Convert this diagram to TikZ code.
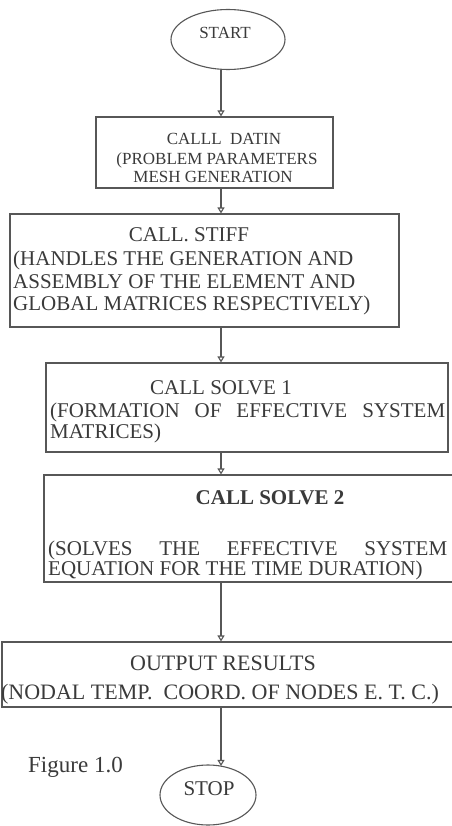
\documentclass[tikz,border=0pt]{standalone}
\usepackage{fontspec}
\setmainfont{Liberation Serif}
\usetikzlibrary{arrows.meta,shapes.geometric}
\definecolor{ink}{HTML}{3A3A3A}
\definecolor{edge}{HTML}{575757}
\begin{document}
\begin{tikzpicture}[x=1pt,y=-1pt,
  box/.style={draw=edge, line width=1.1pt, rectangle, inner sep=0pt},
  oval/.style={draw=edge, line width=1.1pt, ellipse, inner sep=0pt},
  arr/.style={draw=edge, line width=1.1pt, -{Triangle[open,length=6pt,width=7pt]}},
  txt/.style={text=ink, inner sep=0pt, anchor=base, font=\fontsize{21}{21}\selectfont},
  ltxt/.style={txt, anchor=base west},
  smalltxt/.style={txt, font=\fontsize{17}{17}\selectfont},
]
\useasboundingbox (0,0) rectangle (451,826);
\fill[white] (0,0) rectangle (451,826);

% shapes
\node[oval, minimum width=114pt, minimum height=60pt] (start) at (228,39.5) {};
\node[box, minimum width=237pt, minimum height=71pt] (b1) at (214.5,152.5) {};
\node[box, minimum width=389pt, minimum height=113pt] (b2) at (204.5,270.5) {};
\node[box, minimum width=402pt, minimum height=89pt] (b3) at (247,407.5) {};
\node[box, minimum width=410pt, minimum height=107pt] (b4) at (249,528.5) {};
\node[box, minimum width=452pt, minimum height=65pt] (b5) at (228,674.5) {};
\node[oval, minimum width=96pt, minimum height=60pt] (stop) at (208,795) {};

% texts
\node[smalltxt] (tstart) at (225,38.6) {START};
\node[smalltxt] (t11) at (224,145) {CALLL\ \ DATIN};
\node[smalltxt] (t12) at (217,164.5) {(PROBLEM PARAMETERS};
\node[smalltxt] (t13) at (213,182.5) {MESH GENERATION};

\node[txt] (t21) at (189,241) {CALL. STIFF};
\node[ltxt] (t22) at (13,265) {(HANDLES THE GENERATION AND};
\node[ltxt] (t23) at (13,288) {ASSEMBLY OF THE ELEMENT AND};
\node[ltxt] (t24) at (13,310) {GLOBAL MATRICES RESPECTIVELY)};

\node[txt] (t31) at (221,394) {CALL SOLVE 1};
\node[ltxt] (t32) at (50,417) {\makebox[395pt][s]{(FORMATION OF EFFECTIVE SYSTEM}};
\node[ltxt] (t33) at (50,438) {MATRICES)};

\node[txt] (t41) at (270,504) {\bfseries CALL SOLVE 2};
\node[ltxt] (t42) at (48,555) {\makebox[399pt][s]{(SOLVES THE EFFECTIVE SYSTEM}};
\node[ltxt] (t43) at (48,575) {EQUATION FOR THE TIME DURATION)};

\node[txt, font=\fontsize{22}{22}\selectfont] (t51) at (223,670) {OUTPUT RESULTS};
\node[txt, font=\fontsize{22}{22}\selectfont] (t52) at (220,699) {(NODAL TEMP.\ \ COORD. OF NODES E. T. C.)};

\node[txt] (tstop) at (209,795) {STOP};
\node[ltxt, font=\fontsize{23}{23}\selectfont] (fig) at (28,772) {Figure 1.0};

% connectors
\coordinate (ax) at (221,0);
\draw[arr] (start.south -| ax) -- (b1.north -| ax);
\draw[arr] (b1.south -| ax) -- (b2.north -| ax);
\draw[arr] (b2.south -| ax) -- (b3.north -| ax);
\draw[arr] (b3.south -| ax) -- (b4.north -| ax);
\draw[arr] (b4.south -| ax) -- (b5.north -| ax);
\draw[arr, shorten >=-1.5pt] (b5.south -| ax) -- (stop.north -| ax);
\end{tikzpicture}
\end{document}
